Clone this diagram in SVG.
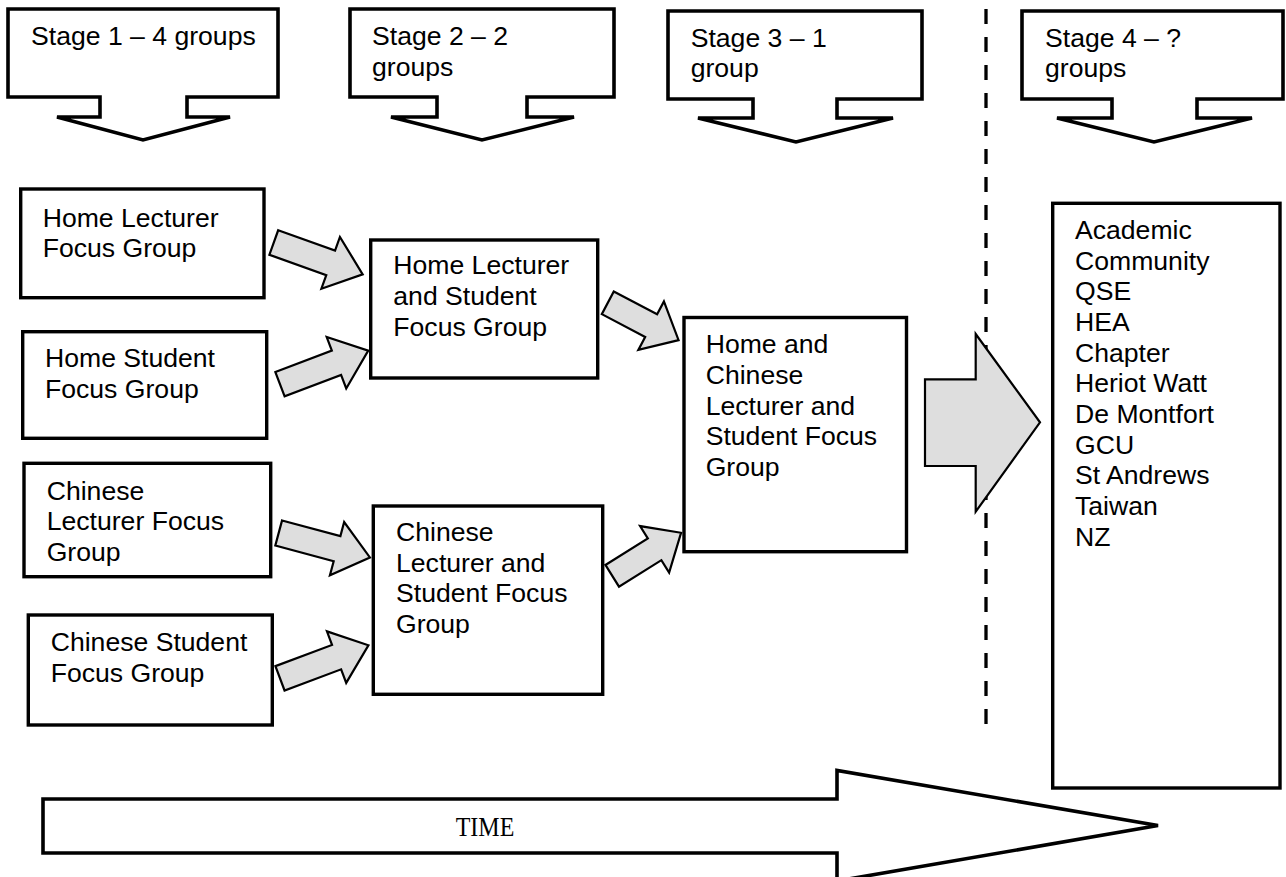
<svg xmlns="http://www.w3.org/2000/svg" width="1286" height="877" viewBox="0 0 1286 877">
<style>
.t{font-family:"Liberation Sans",Arial,sans-serif;font-size:26.6px;fill:#000}
.box{fill:#fff;stroke:#000;stroke-width:3.4}
.callout{fill:#fff;stroke:#000;stroke-width:3.6;stroke-linejoin:miter}
.blk{fill:#dedede;stroke:#000;stroke-width:2.2;stroke-linejoin:miter}
</style>
<defs>
<polygon id="ba" points="0,-13 60.4,-13 60.4,-27.5 94.4,0 60.4,27.5 60.4,13 0,13"/>
</defs>
<rect width="1286" height="877" fill="#fff"/>

<g id="stage1">
<path class="callout" d="M8,9 H278 V97 H187 V117 H230 L143,140 L57,117 H100 V97 H8 Z"/>
<text class="t" x="31" y="45">Stage 1 – 4 groups</text>
</g>
<g id="stage2">
<path class="callout" d="M350,9 H614 V97 H527 V117 H574 L482,140 L391,117 H437 V97 H350 Z"/>
<text class="t" x="372" y="45">Stage 2 – 2</text>
<text class="t" x="372" y="76">groups</text>
</g>
<g id="stage3">
<path class="callout" d="M668,11 H922 V99 H837 V118 H893 L796,142 L698,118 H753 V99 H668 Z"/>
<text class="t" x="690.7" y="46.7">Stage 3 – 1</text>
<text class="t" x="690.7" y="77">group</text>
</g>
<g id="stage4">
<path class="callout" d="M1022,11 H1283 V99 H1197 V118 H1252 L1154,142 L1057,118 H1112 V99 H1022 Z"/>
<text class="t" x="1045" y="46.7">Stage 4 – ?</text>
<text class="t" x="1045" y="77">groups</text>
</g>

<line id="divider" x1="986" y1="9" x2="986" y2="726" stroke="#000" stroke-width="3.3" stroke-dasharray="15 13"/>

<g id="home-lecturer">
<rect class="box" x="20.7" y="189" width="243.3" height="108.7"/>
<text class="t" x="42.7" y="226.7">Home Lecturer</text>
<text class="t" x="42.7" y="256.5">Focus Group</text>
</g>
<g id="home-student">
<rect class="box" x="22.7" y="331.7" width="244" height="106.6"/>
<text class="t" x="45" y="367.3">Home Student</text>
<text class="t" x="45" y="398.3">Focus Group</text>
</g>
<g id="chinese-lecturer">
<rect class="box" x="24" y="463.3" width="246.7" height="113.4"/>
<text class="t" x="46.7" y="499.5">Chinese</text>
<text class="t" x="46.7" y="530">Lecturer Focus</text>
<text class="t" x="46.7" y="560.5">Group</text>
</g>
<g id="chinese-student">
<rect class="box" x="28.3" y="615" width="244" height="110"/>
<text class="t" x="50.7" y="650.7">Chinese Student</text>
<text class="t" x="50.7" y="681.5">Focus Group</text>
</g>
<g id="home-lecturer-student">
<rect class="box" x="370.7" y="240" width="227" height="138"/>
<text class="t" x="393.3" y="274.3">Home Lecturer</text>
<text class="t" x="393.3" y="305">and Student</text>
<text class="t" x="393.3" y="335.6">Focus Group</text>
</g>
<g id="chinese-lecturer-student">
<rect class="box" x="373.3" y="506" width="229.4" height="188.3"/>
<text class="t" x="396" y="541">Chinese</text>
<text class="t" x="396" y="571.6">Lecturer and</text>
<text class="t" x="396" y="602.2">Student Focus</text>
<text class="t" x="396" y="632.8">Group</text>
</g>
<g id="home-chinese">
<rect class="box" x="684" y="317.5" width="222.5" height="234.2"/>
<text class="t" x="705.7" y="353.3">Home and</text>
<text class="t" x="705.7" y="383.9">Chinese</text>
<text class="t" x="705.7" y="414.5">Lecturer and</text>
<text class="t" x="705.7" y="445.1">Student Focus</text>
<text class="t" x="705.7" y="475.7">Group</text>
</g>
<g id="wider-community">
<rect class="box" x="1052.7" y="203.3" width="227.3" height="584.7"/>
<text class="t" x="1075" y="239">Academic</text>
<text class="t" x="1075" y="269.7">Community</text>
<text class="t" x="1075" y="300.3">QSE</text>
<text class="t" x="1075" y="331">HEA</text>
<text class="t" x="1075" y="361.7">Chapter</text>
<text class="t" x="1075" y="392.3">Heriot Watt</text>
<text class="t" x="1075" y="423">De Montfort</text>
<text class="t" x="1075" y="453.7">GCU</text>
<text class="t" x="1075" y="484.3">St Andrews</text>
<text class="t" x="1075" y="515">Taiwan</text>
<text class="t" x="1075" y="545.7">NZ</text>
</g>

<g id="connectors">
<use href="#ba" class="blk" transform="translate(273.8,242.5) rotate(19.7)"/>
<use href="#ba" class="blk" transform="translate(280,384.2) rotate(-20.8)"/>
<use href="#ba" class="blk" transform="translate(278.7,533) rotate(15)"/>
<use href="#ba" class="blk" transform="translate(280,678.3) rotate(-20.5)"/>
<polygon class="blk" points="0,-12.8 49,-12.8 49,-27.4 80,0 49,27.4 49,12.8 0,12.8" transform="translate(607.8,302.8) rotate(27.8)"/>
<polygon class="blk" points="0,-12.8 50,-12.8 50,-27.4 81.2,0 50,27.4 50,12.8 0,12.8" transform="translate(612.2,575.8) rotate(-32)"/>
<polygon class="blk" points="925,379.3 975.7,379.3 975.7,334 1040,422.3 975.7,511.7 975.7,466 925,466"/>
</g>

<g id="time">
<polygon points="43,799 837,799 837,770.5 1158,825.5 837,881 837,853 43,853" fill="#fff" stroke="#000" stroke-width="3.6"/>
<text transform="translate(485,836) scale(1,1.15)" text-anchor="middle" font-family="'Liberation Serif','Times New Roman',serif" font-size="24">TIME</text>
</g>
</svg>
